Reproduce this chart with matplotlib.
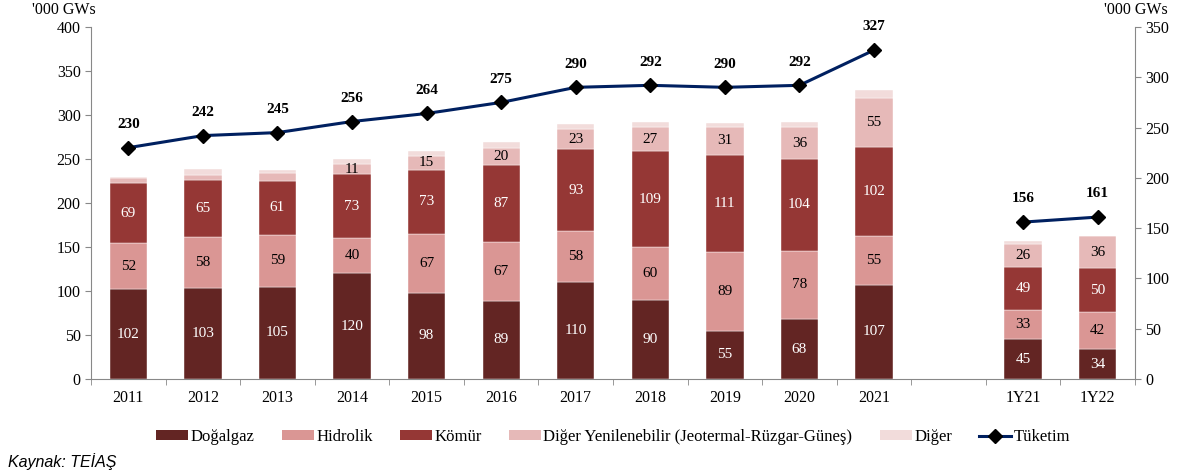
import numpy as np
import matplotlib
matplotlib.use("Agg")
import matplotlib.pyplot as plt
from matplotlib.lines import Line2D
from matplotlib.patches import Patch

periods = ['2011', '2012', '2013', '2014', '2015', '2016', '2017', '2018',
           '2019', '2020', '2021', '1Y21', '1Y22']
dogalgaz = [102, 103, 105, 120, 98, 89, 110, 90, 55, 68, 107, 45, 34]
hidrolik = [52, 58, 59, 40, 67, 67, 58, 60, 89, 78, 55, 33, 42]
komur = [69, 65, 61, 73, 73, 87, 93, 109, 111, 104, 102, 49, 50]
diger_yen = [5, 6, 9, 11, 15, 20, 23, 27, 31, 36, 55, 26, 36]
diger = [1, 7, 4, 6, 6, 6, 6, 6, 5, 6, 9, 4, 1]
tuketim = [230, 242, 245, 256, 264, 275, 290, 292, 290, 292, 327, 156, 161]

# which stacks get a number printed (small ones in early years don't)
yen_labelled = [False, False, False] + [True] * 10

plt.rcParams['font.family'] = ['Liberation Serif', 'DejaVu Serif']

fig = plt.figure(figsize=(11.84, 4.76), dpi=100)
ax = fig.add_axes([0.0769, 0.2038, 0.8817, 0.7395])

x = np.r_[np.arange(11), 12, 13]
w = 0.5

series = [
    ('Doğalgaz', dogalgaz, '#632523', 'white'),
    ('Hidrolik', hidrolik, '#DA9694', 'black'),
    ('Kömür', komur, '#953735', 'white'),
    ('Diğer Yenilenebilir (Jeotermal-Rüzgar-Güneş)', diger_yen, '#E6B9B8', 'black'),
    ('Diğer', diger, '#F2DCDB', None),
]

bottom = np.zeros(len(periods))
handles = []
for name, vals, col, tcol in series:
    vals = np.array(vals, dtype=float)
    ax.bar(x, vals, w, bottom=bottom, color=col, edgecolor='white', linewidth=0.3)
    if tcol is not None:
        for i in range(len(x)):
            if name.startswith('Diğer Yen') and not yen_labelled[i]:
                continue
            ax.text(x[i], bottom[i] + vals[i] / 2, f'{int(vals[i])}', ha='center',
                    va='center', color=tcol, fontsize=11)
    bottom += vals
    handles.append(Patch(facecolor=col, label=name))

ax.set_xlim(-0.5, 13.5)
ax.set_ylim(0, 400)
ax.set_yticks(np.arange(0, 401, 50))
ax.set_xticks(x)
ax.set_xticklabels(periods)
ax.set_xticks(np.arange(-0.5, 13.6, 1), minor=True)
ax.tick_params(axis='x', which='major', length=0, pad=8, labelsize=11.5)
ax.tick_params(axis='x', which='minor', length=4, color='#888888')
ax.tick_params(axis='y', length=4, color='#888888', labelsize=11.5)
for s in ['top', 'right']:
    ax.spines[s].set_visible(False)
for s in ['left', 'bottom']:
    ax.spines[s].set_color('#888888')

ax2 = ax.twinx()
ax2.set_ylim(0, 350)
ax2.set_yticks(np.arange(0, 351, 50))
ax2.tick_params(axis='y', length=4, color='#888888', labelsize=11.5)
for s in ['top', 'left', 'bottom']:
    ax2.spines[s].set_visible(False)
ax2.spines['right'].set_color('#888888')

tk = np.array(tuketim, dtype=float)
for sl in [slice(0, 11), slice(11, 13)]:
    ax2.plot(x[sl], tk[sl], color='#002060', linewidth=2.2, marker='D',
             markersize=7, markerfacecolor='black', markeredgecolor='black', zorder=5)
for xi, v in zip(x, tk):
    ax2.annotate(f'{int(v)}', (xi, v), xytext=(0, 12), textcoords='offset points',
                 ha='center', va='bottom', fontsize=11, fontweight='bold')

handles.append(Line2D([0], [0], color='#002060', linewidth=2.2, marker='D',
                      markersize=7, markerfacecolor='black', markeredgecolor='black',
                      label='Tüketim'))
fig.legend(handles=handles, loc='center', bbox_to_anchor=(0.518, 0.082), ncol=6,
           frameon=False, fontsize=12, handlelength=1.9, handleheight=0.55,
           handletextpad=0.15, columnspacing=1.65)

fig.text(0.081, 0.995, "'000 GWs", ha='right', va='top', fontsize=11.5)
fig.text(0.986, 0.995, "'000 GWs", ha='right', va='top', fontsize=11.5)
fig.text(0.007, 0.03, 'Kaynak: TEİAŞ', ha='left', va='center', fontsize=11.5,
         style='italic', family=['Liberation Sans', 'DejaVu Sans'])

fig.savefig('out.png', dpi=100)
